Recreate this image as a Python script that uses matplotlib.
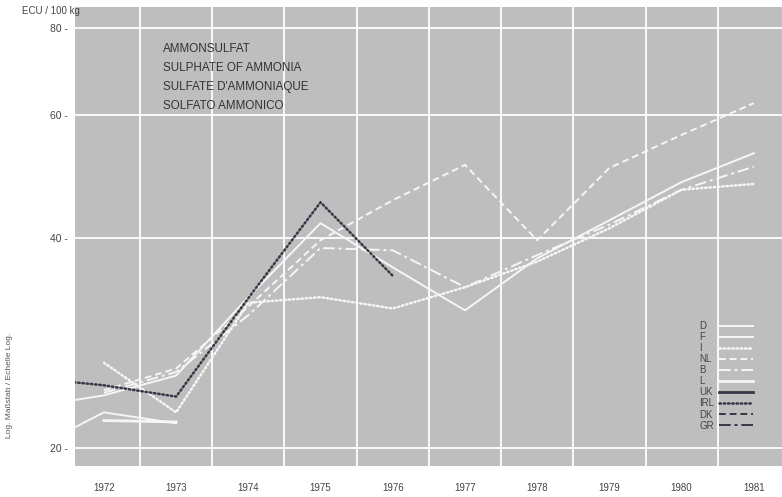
import numpy as np
import matplotlib
matplotlib.use("Agg")
import matplotlib.pyplot as plt
from matplotlib.ticker import FixedLocator, NullLocator

plt.rcParams['font.family'] = ['Liberation Sans', 'DejaVu Sans']

years = [1971, 1972, 1973, 1974, 1975, 1976, 1977, 1978, 1979, 1980, 1981]
nan = np.nan
D   = [22.9, 23.8, 25.4, 32.9, 42.0, 36.3, 31.5, 37.4, 42.4, 48.1, 52.9]
F   = [19.9, 22.5, 21.7, nan, nan, nan, nan, nan, nan, nan, nan]
I   = [nan, 26.5, 22.5, 32.3, 32.9, 31.7, 34.0, 37.0, 41.3, 46.9, 47.8]
NL  = [nan, 24.2, 26.0, 31.9, 39.7, 45.3, 50.9, 39.7, 50.4, 56.2, 62.4]
B   = [nan, 24.0, 25.7, 31.0, 38.7, 38.4, 34.0, 37.8, 41.8, 46.9, 50.6]
L   = [nan, 21.9, 21.8, nan, nan, nan, nan, nan, nan, nan, nan]
UK  = [nan] * 11
IRL = [25.2, 24.6, 23.7, 32.8, 45.0, 35.3, nan, nan, nan, nan, nan]
DK  = [nan] * 11
GR  = [nan] * 11

year_labels = ['1972', '1973', '1974', '1975', '1976', '1977', '1978', '1979', '1980', '1981']
y_ticks = [20, 40, 60, 80]

W = '#f6f6f6'
K = '#363845'
styles = [
    ('D', D, W, 1.4, '-'),
    ('F', F, W, 1.4, '-'),
    ('I', I, W, 1.8, (0, (0.6, 1.1))),
    ('NL', NL, W, 1.4, (0, (3.5, 2.0))),
    ('B', B, W, 1.4, (0, (6, 2, 1.5, 2))),
    ('L', L, W, 2.0, '-'),
    ('UK', UK, K, 2.0, '-'),
    ('IRL', IRL, K, 1.8, (0, (0.6, 1.1))),
    ('DK', DK, K, 1.4, (0, (3.5, 2.0))),
    ('GR', GR, K, 1.4, (0, (6, 2, 1.5, 2))),
]

fig = plt.figure(figsize=(7.82, 4.97), dpi=100)
ax = fig.add_axes([75/782, 1 - 466/497, 1 - 75/782, (466 - 7)/497])
ax.set_facecolor('#bebebe')
for s in ax.spines.values():
    s.set_visible(False)

handles = []
for name, vals, col, lw, ls in styles:
    ln, = ax.plot(years, vals, color=col, lw=lw, linestyle=ls, label=name,
                  dash_capstyle='round' if isinstance(ls, tuple) and ls[1][0] < 1 else 'butt')
    handles.append(ln)

ax.set_yscale('log')
ax.set_ylim(18.85, 85.7)
ax.set_xlim(1971.6, 1981.39)

ax.yaxis.set_major_locator(FixedLocator(y_ticks))
ax.yaxis.set_minor_locator(NullLocator())
ax.set_yticklabels([f'{v} -' for v in y_ticks])
ax.xaxis.set_major_locator(FixedLocator([int(y) for y in year_labels]))
ax.set_xticklabels(year_labels)
ax.xaxis.set_minor_locator(FixedLocator(np.arange(1972.5, 1981.4, 1.0)))
ax.tick_params(axis='y', length=0, pad=5, labelsize=7.5, labelcolor='#444444')
ax.tick_params(axis='x', which='major', length=0, pad=12, labelsize=7, labelcolor='#444444')
ax.tick_params(axis='x', which='minor', length=0)
ax.grid(True, axis='y', which='major', color='white', lw=1.3)
ax.grid(True, axis='x', which='minor', color='white', lw=1.3)
ax.set_axisbelow(True)

ax.text(88/707, 0.9216, 'AMMONSULFAT\nSULPHATE OF AMMONIA\nSULFATE D\'AMMONIAQUE\nSOLFATO AMMONICO',
        transform=ax.transAxes, fontsize=8.4, color='#333333', va='top', ha='left',
        linespacing=1.76)

fig.text(22/782, 1 - 11/497, 'ECU / 100 kg', fontsize=7, color='#444444', va='center', ha='left')
fig.text(10/782, 1 - 385/497, 'Log. Maßstab / Echelle Log.', fontsize=6, color='#555555',
         rotation=90, va='center', ha='center')

leg = ax.legend(handles=handles, loc='upper left', bbox_to_anchor=(698/782, 1 - 321/497),
                bbox_transform=fig.transFigure, frameon=False, markerfirst=False,
                fontsize=7, handlelength=3.5, handletextpad=0.6, labelspacing=0.11,
                borderpad=0, borderaxespad=0)

# left-align the legend labels (as in the reference)
fig.canvas.draw()
renderer = fig.canvas.get_renderer()
for t in leg.get_texts():
    bb = t.get_window_extent(renderer)
    yc = (bb.y0 + bb.y1) / 2
    t.set_alpha(0)
    fig.text(699/782, yc / fig.bbox.height, t.get_text(), fontsize=7, color='#444444',
             ha='left', va='center')

fig.savefig('out.png', dpi=100)
